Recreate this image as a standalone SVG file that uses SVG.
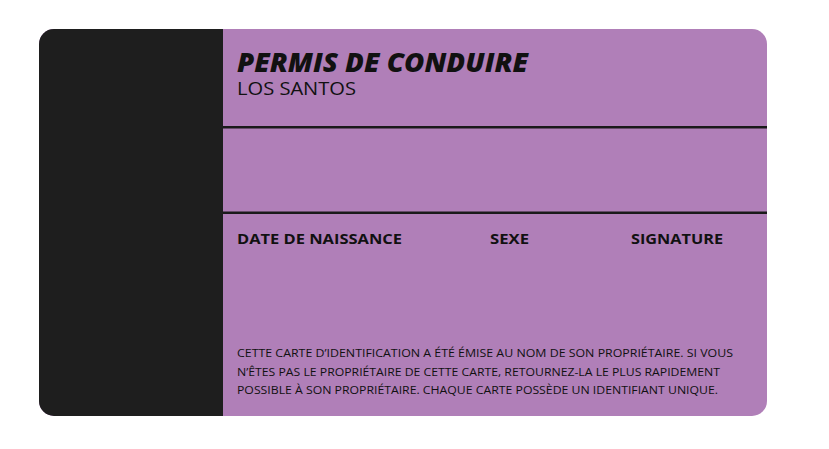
<svg xmlns="http://www.w3.org/2000/svg" width="829" height="449" viewBox="0 0 829 449">
<defs>
<style>
.t{font-family:"Open Sans","Liberation Sans",sans-serif;fill:#111111}
.lbl{font-size:15px;font-weight:700}
.body{font-size:11.6px}
</style>
<clipPath id="card"><rect x="39" y="29" width="728" height="387" rx="15"/></clipPath>
</defs>
<rect width="829" height="449" fill="#ffffff"/>
<g id="card-bg" clip-path="url(#card)">
<rect x="39" y="29" width="728" height="387" fill="#B07FB8"/>
<rect x="39" y="29" width="184" height="387" fill="#1E1E1E"/>
<rect x="223" y="126" width="544" height="2.5" fill="#1A1A1A"/>
<rect x="223" y="211.5" width="544" height="2.5" fill="#1A1A1A"/>
</g>
<g id="header">
<text class="t" x="237" y="72" font-size="26" font-weight="800" font-style="italic" textLength="291" lengthAdjust="spacingAndGlyphs">PERMIS DE CONDUIRE</text>
<text class="t" x="237" y="94.5" font-size="19" textLength="119" lengthAdjust="spacingAndGlyphs">LOS SANTOS</text>
</g>
<g id="labels">
<text class="t lbl" x="237" y="243.5" textLength="165" lengthAdjust="spacingAndGlyphs">DATE DE NAISSANCE</text>
<text class="t lbl" x="490" y="243.5" textLength="39" lengthAdjust="spacingAndGlyphs">SEXE</text>
<text class="t lbl" x="631" y="243.5" textLength="92" lengthAdjust="spacingAndGlyphs">SIGNATURE</text>
</g>
<g id="notice">
<text class="t body" x="237" y="357" textLength="496" lengthAdjust="spacingAndGlyphs">CETTE CARTE D’IDENTIFICATION A ÉTÉ ÉMISE AU NOM DE SON PROPRIÉTAIRE. SI VOUS</text>
<text class="t body" x="237" y="375.5" textLength="483" lengthAdjust="spacingAndGlyphs">N’ÊTES PAS LE PROPRIÉTAIRE DE CETTE CARTE, RETOURNEZ-LA LE PLUS RAPIDEMENT</text>
<text class="t body" x="237" y="394" textLength="481" lengthAdjust="spacingAndGlyphs">POSSIBLE À SON PROPRIÉTAIRE. CHAQUE CARTE POSSÈDE UN IDENTIFIANT UNIQUE.</text>
</g>
</svg>
